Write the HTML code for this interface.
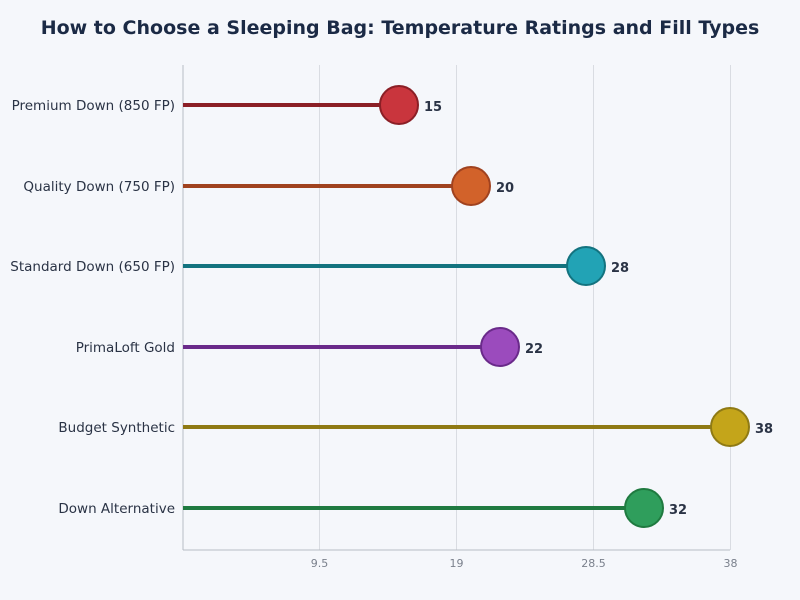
<!DOCTYPE html>
<html><head><meta charset="utf-8"><style>
body{margin:0;background:#f5f7fb;}
svg{display:block;font-family:"DejaVu Sans","Liberation Sans",sans-serif;}
</style></head><body>
<svg width="800" height="600" viewBox="0 0 800 600">
<rect width="800" height="600" fill="#f5f7fb"/>
<text x="400" y="34" text-anchor="middle" font-size="19" font-weight="bold" fill="#1b2a45">How to Choose a Sleeping Bag: Temperature Ratings and Fill Types</text>
<g stroke="#d9dce2" stroke-width="1">
<line x1="319.5" y1="65" x2="319.5" y2="550"/>
<line x1="456.5" y1="65" x2="456.5" y2="550"/>
<line x1="593.5" y1="65" x2="593.5" y2="550"/>
<line x1="730.5" y1="65" x2="730.5" y2="550"/>
</g>
<line x1="183" y1="65" x2="183" y2="550" stroke="#b8bcc4"/>
<line x1="183" y1="550" x2="730" y2="550" stroke="#b8bcc4"/>
<g font-size="11" fill="#7a808c" text-anchor="middle">
<text x="319.5" y="567">9.5</text><text x="456.5" y="567">19</text><text x="593.5" y="567">28.5</text><text x="730.5" y="567">38</text>
</g>
<g font-size="13.5" fill="#2a3345" text-anchor="end">
<text x="175" y="110">Premium Down (850 FP)</text>
<text x="175" y="191">Quality Down (750 FP)</text>
<text x="175" y="271">Standard Down (650 FP)</text>
<text x="175" y="352">PrimaLoft Gold</text>
<text x="175" y="432">Budget Synthetic</text>
<text x="175" y="513">Down Alternative</text>
</g>
<g stroke-width="4">
<line x1="183" y1="105" x2="399" y2="105" stroke="#8b1f26"/>
<line x1="183" y1="186" x2="471" y2="186" stroke="#a0421f"/>
<line x1="183" y1="266" x2="586" y2="266" stroke="#13737f"/>
<line x1="183" y1="347" x2="500" y2="347" stroke="#6a2a8a"/>
<line x1="183" y1="427" x2="730" y2="427" stroke="#8f7a14"/>
<line x1="183" y1="508" x2="644" y2="508" stroke="#1f7a40"/>
</g>
<g stroke-width="2">
<circle cx="399" cy="105" r="19" fill="#c9353d" stroke="#8b1f26"/>
<circle cx="471" cy="186" r="19" fill="#d2622a" stroke="#a0421f"/>
<circle cx="586" cy="266" r="19" fill="#22a3b5" stroke="#13737f"/>
<circle cx="500" cy="347" r="19" fill="#9b4bbd" stroke="#6a2a8a"/>
<circle cx="730" cy="427" r="19" fill="#c4a51a" stroke="#8f7a14"/>
<circle cx="644" cy="508" r="19" fill="#2f9e5c" stroke="#1f7a40"/>
</g>
<g font-size="13" font-weight="bold" fill="#2a3345">
<text x="424" y="111">15</text>
<text x="496" y="192">20</text>
<text x="611" y="272">28</text>
<text x="525" y="353">22</text>
<text x="755" y="433">38</text>
<text x="669" y="514">32</text>
</g>
</svg>
</body></html>
